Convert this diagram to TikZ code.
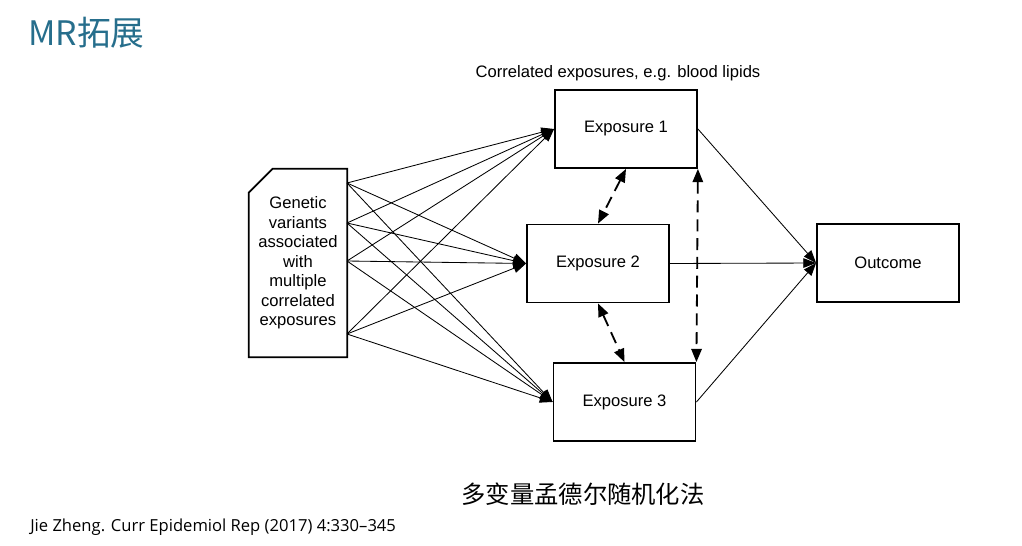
\documentclass[tikz,border=0pt]{standalone}
\usepackage{fontspec}
\setmainfont{Liberation Sans}
\newfontfamily\cjk{Noto Sans CJK SC}
\newfontfamily\refsans{Open Sans}
\usetikzlibrary{calc}
\usetikzlibrary{positioning}
\usetikzlibrary{arrows.meta}
\definecolor{titleteal}{RGB}{38,110,140}
\tikzstyle{expnode} = [draw, line width=1.3pt, minimum width=3.55cm, minimum height=1.95cm, font=\fontsize{11.8}{14}\selectfont]
\tikzstyle{snpline} = [line width=0.6pt, -{Triangle[length=0.32cm, width=0.24cm]}]
\tikzstyle{outline} = [line width=0.6pt, -{Triangle[length=0.32cm, width=0.24cm]}]
\tikzstyle{corrline} = [line width=1.3pt, dash pattern=on 0.3cm off 0.17cm, {Triangle[length=0.33cm, width=0.26cm]}-{Triangle[length=0.33cm, width=0.26cm]}]

\begin{document}
\begin{tikzpicture}[x=0.025cm, y=-0.025cm]
    \useasboundingbox (0,0) rectangle (1022,546);

    % title and notes
    \node[anchor=base west, inner sep=0, text=titleteal, font=\cjk\fontsize{24}{28}\selectfont] (title) at (28,45) {MR拓展};
    \node[anchor=base, inner sep=0, font=\fontsize{11.8}{14}\selectfont] (corrlabel) at (618,77) {Correlated exposures, e.g. blood lipids};
    \node[inner sep=0, font=\cjk\fontsize{17.3}{20}\selectfont] (caption) at (583,494) {多变量孟德尔随机化法};
    \node[anchor=base west, inner sep=0, font=\refsans\fontsize{11.8}{13}\selectfont] (source) at (30,531) {Jie Zheng. Curr Epidemiol Rep (2017) 4:330–345};

    % genetic variants box
    \node[minimum width=2.45cm, minimum height=4.7cm, align=center, font=\fontsize{11.8}{13.9}\selectfont] (gen) at (298,263) {Genetic\\variants\\associated\\with\\multiple\\correlated\\exposures};
    \draw[line width=1.3pt] ($(gen.north west)+(24,0)$) -- (gen.north east) -- (gen.south east) -- (gen.south west) -- ($(gen.north west)+(0,24)$) -- cycle;

    % exposures and outcome
    \node[expnode] (exp1) at (626,129) {Exposure 1};
    \node[expnode] (exp2) at (598,263.5) {Exposure 2};
    \node[expnode] (exp3) at (624.5,402) {Exposure 3};
    \node[expnode] (outcome) at (888,263) {Outcome};

    % instruments
    \coordinate (g1) at (347,183);
    \coordinate (g2) at (347,223);
    \coordinate (g3) at (347,261);
    \coordinate (g4) at (347,334);
    \foreach \g in {g1,g2,g3,g4}
        \foreach \e in {exp1,exp2,exp3}
            \draw[snpline] (\g) -- (\e.west);

    % causal effects
    \foreach \e in {exp1,exp2,exp3}
        \draw[outline] (\e.east) -- (outcome.west);

    % correlations
    \draw[corrline] (exp1.south) -- (exp2.north);
    \draw[corrline] (exp2.south) -- (exp3.north);
    \draw[corrline] (exp1.south east) -- (exp3.north east);
\end{tikzpicture}
\end{document}
